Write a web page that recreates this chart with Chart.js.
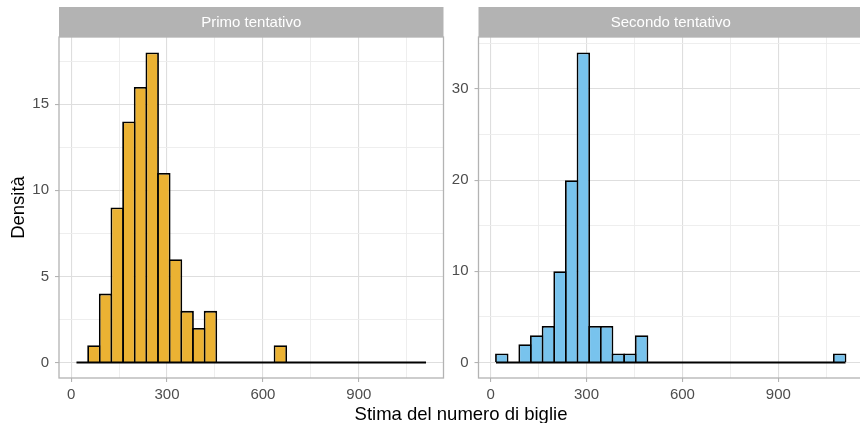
<!DOCTYPE html>
<html>
<head>
<meta charset="utf-8">
<script src="https://cdn.jsdelivr.net/npm/chart.js@4.4.1/dist/chart.umd.min.js"></script>
<style>
  html, body { margin: 0; padding: 0; background: #fff; overflow: hidden; width: 860px; height: 423px; }
  #wrap { position: relative; width: 860px; height: 423px; overflow: hidden; }
  .panel { position: absolute; top: 0; height: 423px; }
  #left { left: 0; width: 450px; }
  #right { left: 440px; width: 430px; }
  #xtitle { position: absolute; left: 261px; width: 400px; top: 403px; text-align: center;
            font: 18.5px/22px "Liberation Sans", Arial, sans-serif; color: #000; }
</style>
</head>
<body>
<div id="wrap">
  <div class="panel" id="left"><canvas id="c1"></canvas></div>
  <div class="panel" id="right"><canvas id="c2"></canvas></div>
  <div id="xtitle"></div>
</div>
<script>
// Histogram bins (centres) shared by both panels
const binCenters = [35.0, 71.4, 107.9, 144.3, 180.8, 217.2, 253.7, 290.1, 326.6, 363.0,
                    399.5, 435.9, 472.4, 508.8, 545.3, 581.7, 618.2, 654.6, 691.1, 727.5,
                    764.0, 800.4, 836.9, 873.3, 909.8, 946.2, 982.6, 1019.1, 1055.5, 1092.0];
// Counts per bin
const primoCounts   = [0, 1, 4, 9, 14, 16, 18, 11, 6, 3, 2, 3, 0, 0, 0, 0, 0, 1, 0, 0,
                       0, 0, 0, 0, 0, 0, 0, 0, 0, 0];
const secondoCounts = [1, 0, 2, 3, 4, 10, 20, 34, 4, 4, 1, 1, 3, 0, 0, 0, 0, 0, 0, 0,
                       0, 0, 0, 0, 0, 0, 0, 0, 0, 1];
// Axis breaks
const xTickLabels   = [0, 300, 600, 900];
const primoYTicks   = [0, 5, 10, 15];
const secondoYTicks = [0, 10, 20, 30];
// Text
const panelTitles = ['Primo tentativo', 'Secondo tentativo'];
const xAxisTitle = 'Stima del numero di biglie';
const yAxisTitle = 'Densità';

document.getElementById('xtitle').textContent = xAxisTitle;

const FONT = '"Liberation Sans", Arial, sans-serif';
Chart.defaults.font.family = FONT;
const GREY70 = '#B3B3B3';
const GRID_MAJOR = '#DEDEDE';
const GRID_MINOR = '#ECECEC';
const TICK_TEXT = '#4D4D4D';
const BAR_LW = 1.8;

const binWidth = binCenters[1] - binCenters[0];
const edgeLo = binCenters[0] - binWidth / 2;
const edgeHi = binCenters[binCenters.length - 1] + binWidth / 2;
const xMin = edgeLo - 0.05 * (edgeHi - edgeLo);
const xMax = edgeHi + 0.05 * (edgeHi - edgeLo);

// majors plus half-step minor breaks inside [lo, hi]
function withMinors(majors, lo, hi) {
  const step = majors[1] - majors[0];
  const all = majors.slice();
  for (const m of majors) {
    if (m + step / 2 <= hi) all.push(m + step / 2);
  }
  if (majors[0] - step / 2 >= lo) all.push(majors[0] - step / 2);
  return all.sort((a, b) => a - b);
}

// panel border + facet strip
const facetDecor = {
  id: 'facetDecor',
  afterDraw(chart, args, opts) {
    const { ctx, chartArea: a } = chart;
    ctx.save();
    ctx.fillStyle = GREY70;
    ctx.fillRect(a.left, 7, a.right - a.left, a.top - 7);
    ctx.fillStyle = '#fff';
    ctx.font = '15px ' + FONT;
    ctx.textAlign = 'center';
    ctx.textBaseline = 'middle';
    ctx.fillText(opts.title, (a.left + a.right) / 2, 23);
    ctx.strokeStyle = GREY70;
    ctx.lineWidth = 1.3;
    ctx.strokeRect(a.left, a.top, a.right - a.left, a.bottom - a.top);
    ctx.restore();
  }
};

function makePanel(canvasId, counts, yMajors, fill, title, yWidth, padRight, showYTitle) {
  const yMaxCount = Math.max(...counts);
  const yMin = -0.05 * yMaxCount;
  const yMax = 1.05 * yMaxCount;
  const xAll = withMinors(xTickLabels, xMin, xMax);
  const yAll = withMinors(yMajors, yMin, yMax);
  const majorAt = (list, c) => !!(c && c.tick && list.includes(c.tick.value));

  return new Chart(document.getElementById(canvasId), {
    type: 'bar',
    data: {
      datasets: [
        {
          type: 'line',
          data: [{ x: edgeLo, y: 0 }, { x: edgeHi, y: 0 }],
          borderColor: '#000',
          borderWidth: BAR_LW,
          pointRadius: 0,
          order: 0
        },
        {
          type: 'bar',
          data: binCenters.map((c, i) => ({ x: c, y: counts[i] })),
          backgroundColor: fill,
          borderColor: '#000',
          borderWidth: BAR_LW,
          borderSkipped: 'start',
          barPercentage: 1.155,
          categoryPercentage: 1,
          order: 1
        }
      ]
    },
    options: {
      responsive: true,
      maintainAspectRatio: false,
      animation: false,
      events: [],
      layout: { padding: { left: 0, right: padRight, top: 37, bottom: 0 } },
      plugins: {
        legend: { display: false },
        tooltip: { enabled: false },
        facetDecor: { title: title }
      },
      scales: {
        x: {
          type: 'linear',
          min: xMin,
          max: xMax,
          offset: false,
          afterBuildTicks: s => { s.ticks = xAll.map(v => ({ value: v })); },
          afterFit: s => { s.height = 45; },
          border: { display: false },
          grid: {
            offset: false,
            color: c => majorAt(xTickLabels, c) ? GRID_MAJOR : GRID_MINOR,
            lineWidth: c => majorAt(xTickLabels, c) ? 1.1 : 0.9,
            tickColor: c => majorAt(xTickLabels, c) ? GREY70 : 'rgba(0,0,0,0)',
            tickLength: 4,
            tickWidth: 1.1
          },
          ticks: {
            autoSkip: false,
            maxRotation: 0,
            padding: 3.5,
            color: TICK_TEXT,
            font: { size: 15 },
            callback: v => xTickLabels.includes(v) ? String(v) : ''
          }
        },
        y: {
          type: 'linear',
          min: yMin,
          max: yMax,
          afterBuildTicks: s => { s.ticks = yAll.map(v => ({ value: v })); },
          afterFit: s => { s.width = yWidth; },
          border: { display: false },
          grid: {
            color: c => majorAt(yMajors, c) ? GRID_MAJOR : GRID_MINOR,
            lineWidth: c => majorAt(yMajors, c) ? 1.1 : 0.9,
            tickColor: c => majorAt(yMajors, c) ? GREY70 : 'rgba(0,0,0,0)',
            tickLength: 4,
            tickWidth: 1.1
          },
          ticks: {
            padding: 6,
            color: TICK_TEXT,
            font: { size: 15 },
            callback: v => yMajors.includes(v) ? String(v) : ''
          },
          title: {
            display: showYTitle,
            text: yAxisTitle,
            color: '#000',
            font: { size: 18.5 },
            padding: { top: 8, bottom: 0 }
          }
        }
      }
    },
    plugins: [facetDecor]
  });
}

makePanel('c1', primoCounts, primoYTicks, '#EBB233', panelTitles[0], 59, 6.5, true);
makePanel('c2', secondoCounts, secondoYTicks, '#78C3ED', panelTitles[1], 38.5, 7, false);
</script>
</body>
</html>
